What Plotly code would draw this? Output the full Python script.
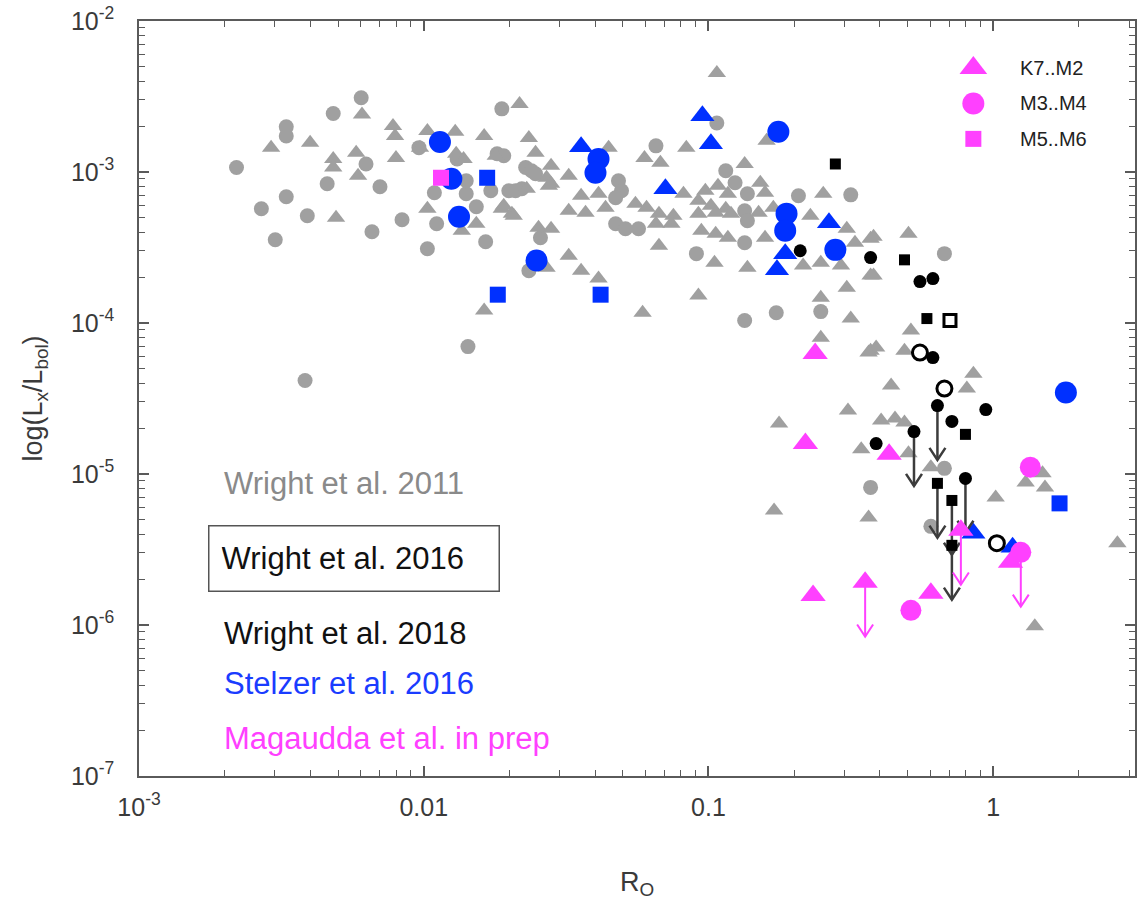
import plotly.graph_objects as go

# ---------------------------------------------------------------------------
# Wright et al. 2011 (grey): Rossby number R_O and L_X/L_bol
# ---------------------------------------------------------------------------
w11_tri_ro = [
    2.91e-3, 3.99e-3, 6.07e-3, 7.80e-3, 7.93e-3, 1.03e-2, 1.29e-2, 1.63e-2, 4.81e-3, 4.81e-3,
    5.79e-3, 7.99e-3, 9.70e-3, 5.88e-3, 4.92e-3, 1.03e-2, 1.36e-2, 1.53e-2, 1.79e-2, 1.88e-2,
    1.30e-2, 1.63e-2, 0.107, 2.17e-2, 0.160, 2.34e-2, 2.47e-2, 4.46e-2, 5.96e-2, 6.78e-2,
    8.36e-2, 2.80e-2, 3.23e-2, 2.75e-2, 3.57e-2, 4.11e-2, 8.17e-2, 0.134, 0.152, 9.75e-2,
    0.108, 0.117, 0.158, 0.253, 1.91e-2, 2.04e-2, 3.23e-2, 3.70e-2, 4.35e-2, 5.54e-2,
    6.06e-2, 6.70e-2, 7.53e-2, 6.54e-2, 7.41e-2, 9.22e-2, 0.102, 0.115, 9.22e-2, 0.106,
    0.120, 0.150, 0.169, 0.228, 2.53e-2, 2.80e-2, 9.44e-2, 0.106, 0.117, 0.158,
    0.306, 0.327, 0.371, 2.70e-2, 3.23e-2, 3.57e-2, 4.11e-2, 6.70e-2, 0.105, 0.137,
    0.215, 0.248, 0.292, 0.371, 9.22e-2, 5.87e-2, 0.248, 0.306, 0.316, 0.248,
    0.371, 0.504, 0.380, 0.380, 0.514, 0.388, 0.365, 0.488, 0.852, 0.808,
    0.438, 0.309, 0.177, 0.404, 0.452, 0.488, 0.344, 0.504, 0.604, 1.02,
    1.30, 1.49, 1.52, 0.170, 0.365, 2.73, 1.40, 2.70e-2, 2.80e-2, 2.30e-2,
    2.07e-2, 1.38e-2,
]
w11_tri_lx = [
    1.45e-3, 1.56e-3, 2.40e-3, 2.02e-3, 1.73e-3, 1.87e-3, 1.85e-3, 1.73e-3, 1.22e-3, 1.07e-3,
    1.34e-3, 1.24e-3, 1.45e-3, 9.44e-4, 4.98e-4, 5.71e-4, 4.09e-4, 4.54e-4, 1.28e-3, 5.71e-4,
    1.32e-3, 1.21e-4, 4.53e-3, 2.82e-3, 1.61e-3, 1.68e-3, 1.34e-3, 1.45e-3, 1.24e-3, 1.15e-3,
    1.45e-3, 1.10e-3, 9.44e-4, 8.11e-4, 6.96e-4, 7.18e-4, 7.18e-4, 1.13e-3, 8.49e-4, 7.52e-4,
    8.11e-4, 7.18e-4, 7.28e-4, 7.18e-4, 5.97e-4, 5.30e-4, 5.53e-4, 5.37e-4, 5.80e-4, 6.17e-4,
    5.80e-4, 5.30e-4, 5.13e-4, 4.54e-4, 4.54e-4, 6.45e-4, 5.97e-4, 5.71e-4, 5.30e-4, 5.37e-4,
    5.30e-4, 5.37e-4, 5.80e-4, 5.13e-4, 4.28e-4, 4.21e-4, 4.09e-4, 3.90e-4, 3.67e-4, 3.67e-4,
    4.21e-4, 3.40e-4, 3.61e-4, 2.32e-4, 2.79e-4, 2.22e-4, 1.97e-4, 3.25e-4, 2.51e-4, 2.32e-4,
    2.40e-4, 2.51e-4, 2.40e-4, 2.06e-4, 1.52e-4, 1.17e-4, 1.47e-4, 1.71e-4, 1.07e-4, 8.00e-5,
    6.56e-5, 3.90e-4, 3.72e-4, 2.06e-4, 8.91e-5, 6.87e-5, 6.37e-5, 6.56e-5, 4.62e-5, 3.68e-5,
    3.85e-5, 2.63e-5, 2.16e-5, 2.26e-5, 2.33e-5, 2.19e-5, 1.46e-5, 1.37e-5, 1.11e-5, 7.00e-6,
    8.80e-6, 1.01e-5, 8.15e-6, 5.74e-6, 5.16e-6, 3.48e-6, 9.82e-7, 9.16e-4, 8.36e-4, 7.74e-4,
    5.13e-4, 1.22e-3,
]
w11_cir_ro = [
    2.20e-3, 3.29e-3, 3.29e-3, 4.81e-3, 6.03e-3, 6.27e-3, 4.58e-3, 7.02e-3, 3.29e-3, 2.69e-3,
    3.90e-3, 3.01e-3, 6.58e-3, 8.39e-3, 1.03e-2, 1.11e-2, 1.09e-2, 1.41e-2, 1.41e-2, 1.53e-2,
    1.65e-2, 1.31e-2, 1.88e-2, 9.62e-3, 1.81e-2, 1.72e-2, 1.99e-2, 2.10e-2, 2.28e-2, 2.39e-2,
    2.47e-2, 1.91e-2, 2.21e-2, 4.83e-2, 4.95e-2, 4.72e-2, 4.72e-2, 5.11e-2, 5.68e-2, 2.57e-2,
    2.34e-2, 6.54e-2, 0.107, 0.115, 0.124, 0.137, 0.134, 0.137, 0.134, 9.07e-2,
    0.207, 0.316, 0.134, 0.173, 0.248, 0.674, 3.83e-3, 1.43e-2, 0.371, 0.604,
    0.674,
]
w11_cir_lx = [
    1.07e-3, 1.99e-3, 1.73e-3, 2.44e-3, 3.10e-3, 1.13e-3, 8.36e-4, 7.98e-4, 6.86e-4, 5.71e-4,
    5.13e-4, 3.56e-4, 4.02e-4, 4.83e-4, 3.10e-4, 4.54e-4, 7.28e-4, 7.18e-4, 8.75e-4, 5.89e-4,
    3.45e-4, 1.22e-3, 2.62e-3, 1.45e-3, 1.32e-3, 7.52e-4, 7.52e-4, 7.52e-4, 1.07e-3, 1.02e-3,
    9.73e-4, 1.28e-3, 7.74e-4, 8.75e-4, 7.52e-4, 6.75e-4, 4.54e-4, 4.21e-4, 4.21e-4, 3.67e-4,
    2.22e-4, 1.49e-3, 2.11e-3, 1.02e-3, 8.49e-4, 7.18e-4, 5.53e-4, 4.75e-4, 3.40e-4, 2.88e-4,
    6.96e-4, 7.06e-4, 1.04e-4, 1.17e-4, 1.19e-4, 2.88e-4, 4.16e-5, 6.98e-5, 8.15e-6, 4.50e-6,
    1.09e-5,
]

# ---------------------------------------------------------------------------
# Stelzer et al. 2016 (blue)
# ---------------------------------------------------------------------------
st_tri_ro = [3.57e-2, 9.52e-2, 0.102, 7.06e-2, 0.265, 0.186, 0.174, 0.852, 1.17]
st_tri_lx = [1.47e-3, 2.36e-3, 1.54e-3, 7.74e-4, 4.61e-4, 2.88e-4, 2.25e-4, 4.05e-6, 3.27e-6]
st_cir_ro = [1.14e-2, 1.25e-2, 1.33e-2, 2.49e-2, 4.11e-2, 4.01e-2, 0.176, 0.188, 0.186, 0.279, 1.80]
st_cir_lx = [1.58e-3, 9.02e-4, 5.06e-4, 2.59e-4, 1.22e-3, 9.88e-4, 1.85e-3, 5.30e-4, 4.09e-4, 3.05e-4, 3.47e-5]
st_sq_ro = [1.67e-2, 1.82e-2, 4.18e-2, 1.71]
st_sq_lx = [9.16e-4, 1.54e-4, 1.54e-4, 6.39e-6]

# ---------------------------------------------------------------------------
# Wright et al. 2018 (black); *_ul flags mark upper limits
# ---------------------------------------------------------------------------
w18_cir_ro = [0.210, 0.371, 0.553, 0.614, 0.614, 0.637, 0.716, 0.942, 0.527, 0.388, 0.799]
w18_cir_lx = [3.01e-4, 2.71e-4, 1.88e-4, 1.97e-4, 5.90e-5, 2.84e-5, 2.23e-5, 2.67e-5, 1.91e-5, 1.59e-5, 9.35e-6]
w18_cir_ul = [0, 0, 0, 0, 0, 1, 0, 0, 1, 0, 1]
w18_sq_ro = [0.279, 0.488, 0.585, 0.799, 0.637, 0.716, 0.716]
w18_sq_lx = [1.13e-3, 2.62e-4, 1.07e-4, 1.83e-5, 8.67e-6, 6.68e-6, 3.37e-6]
w18_sq_ul = [0, 0, 0, 0, 1, 1, 1]
w18_open_cir_ro = [0.553, 0.674, 1.03]
w18_open_cir_lx = [6.37e-5, 3.68e-5, 3.48e-6]
w18_open_sq_ro = [0.705]
w18_open_sq_lx = [1.04e-4]

# ---------------------------------------------------------------------------
# Magaudda et al. in prep (magenta)
# ---------------------------------------------------------------------------
mg_tri_ro = [0.237, 0.219, 0.431, 0.770, 1.15, 0.233, 0.355, 0.604]
mg_tri_lx = [6.28e-5, 1.59e-5, 1.35e-5, 4.24e-6, 2.60e-6, 1.57e-6, 1.92e-6, 1.62e-6]
mg_tri_ul = [0, 0, 0, 1, 0, 0, 1, 0]
mg_cir_ro = [1.35, 0.514, 1.25]
mg_cir_lx = [1.11e-5, 1.25e-6, 3.03e-6]
mg_cir_ul = [0, 0, 1]
mg_sq_ro = [1.15e-2]
mg_sq_lx = [9.16e-4]

# spectral-type key
key_names = ["K7..M2", "M3..M4", "M5..M6"]
key_symbols = ["triangle-up", "circle", "square"]

# axis ticks
x_tick_vals = [1e-3, 1e-2, 1e-1, 1]
x_tick_text = ["10<sup>-3</sup>", "0.01", "0.1", "1"]
y_tick_vals = [1e-7, 1e-6, 1e-5, 1e-4, 1e-3, 1e-2]
y_tick_text = ["10<sup>-7</sup>", "10<sup>-6</sup>", "10<sup>-5</sup>",
               "10<sup>-4</sup>", "10<sup>-3</sup>", "10<sup>-2</sup>"]

GREY = "#a0a0a0"
BLUE = "#0030ff"
MAGENTA = "#ff40ff"
ARROW = "#3c3c3c"
AXIS = "#5a5a5a"
FONT = "Liberation Sans, Arial, Helvetica, sans-serif"


def upper_limit_arrows(ro, lx, flags, drop=0.36, half=0.028, head=0.08):
    """Down-pointing arrows (stem + open V head) for upper limits, in log space."""
    xs, ys = [], []
    for r, l, f in zip(ro, lx, flags):
        if not f:
            continue
        tip = l / 10 ** drop
        xs += [r, r, None, r / 10 ** half, r, r * 10 ** half, None]
        ys += [l, tip, None, tip * 10 ** head, tip, tip * 10 ** head, None]
    return xs, ys


def pts(x, y, symbol, size, color, line=None):
    return go.Scatter(
        x=x, y=y, mode="markers", showlegend=False, hoverinfo="skip",
        marker=dict(symbol=symbol, size=size, color=color, opacity=1,
                    line=line or dict(width=0)),
    )


fig = go.Figure()

# grey sample
fig.add_trace(pts(w11_cir_ro, w11_cir_lx, "circle", 15, GREY))
fig.add_trace(pts(w11_tri_ro, w11_tri_lx, "triangle-up", 16, GREY))

# blue sample
fig.add_trace(pts(st_cir_ro, st_cir_lx, "circle", 22, BLUE))
fig.add_trace(pts(st_tri_ro, st_tri_lx, "triangle-up", 21, BLUE))
fig.add_trace(pts(st_sq_ro, st_sq_lx, "square", 16, BLUE))

# black upper-limit arrows
ax1, ay1 = upper_limit_arrows(w18_cir_ro, w18_cir_lx, w18_cir_ul)
ax2, ay2 = upper_limit_arrows(w18_sq_ro, w18_sq_lx, w18_sq_ul)
fig.add_trace(go.Scatter(x=ax1 + ax2, y=ay1 + ay2, mode="lines", showlegend=False,
                         hoverinfo="skip", line=dict(color=ARROW, width=2.5)))

# black sample
fig.add_trace(pts(w18_cir_ro, w18_cir_lx, "circle", 13, "black"))
fig.add_trace(pts(w18_sq_ro, w18_sq_lx, "square", 11, "black"))
fig.add_trace(pts(w18_open_cir_ro, w18_open_cir_lx, "circle", 15, "white",
                  dict(color="black", width=3)))
fig.add_trace(pts(w18_open_sq_ro, w18_open_sq_lx, "square", 12, "white",
                  dict(color="black", width=3)))

# magenta upper-limit arrows
mx1, my1 = upper_limit_arrows(mg_tri_ro, mg_tri_lx, mg_tri_ul)
mx2, my2 = upper_limit_arrows(mg_cir_ro, mg_cir_lx, mg_cir_ul)
fig.add_trace(go.Scatter(x=mx1 + mx2, y=my1 + my2, mode="lines", showlegend=False,
                         hoverinfo="skip", line=dict(color=MAGENTA, width=2)))

# magenta sample
fig.add_trace(pts(mg_tri_ro, mg_tri_lx, "triangle-up", 22, MAGENTA))
fig.add_trace(pts(mg_cir_ro, mg_cir_lx, "circle", 21, MAGENTA))
fig.add_trace(pts(mg_sq_ro, mg_sq_lx, "square", 16, MAGENTA))

# key: one row per spectral class on a small hidden overlay axis
KEY_X_DOMAIN = [0.8277, 0.8477]
KEY_Y_DOMAIN = [0.8204, 0.9613]
key_rows = list(range(len(key_names)))
fig.add_trace(go.Scatter(
    x=[0] * len(key_rows), y=key_rows, xaxis="x2", yaxis="y2", mode="markers",
    showlegend=False, hoverinfo="skip", cliponaxis=False,
    marker=dict(symbol=key_symbols, size=[24, 22, 16], color=MAGENTA, opacity=1,
                line=dict(width=0)),
))
row_h = (KEY_Y_DOMAIN[1] - KEY_Y_DOMAIN[0]) / len(key_rows)
for i, name in zip(key_rows, key_names):
    fig.add_annotation(text=name, xref="paper", yref="paper", x=0.8828,
                       y=KEY_Y_DOMAIN[1] - (i + 0.5) * row_h,
                       xanchor="left", yanchor="middle", showarrow=False,
                       font=dict(family=FONT, size=20, color="#222222"))

axis_common = dict(
    type="log", showgrid=False, zeroline=False, showline=True, linecolor=AXIS,
    linewidth=1.5, mirror="allticks", ticks="inside", ticklen=10, tickwidth=1.5,
    tickcolor=AXIS, tickfont=dict(family=FONT, size=25, color="#3a3a3a"),
    tickmode="array",
)

x_minor = [k * 10.0 ** e for e in range(-3, 0) for k in range(2, 10)] + [2, 3]
y_minor = [k * 10.0 ** e for e in range(-7, -2) for k in range(2, 10)]

xaxis_main = dict(
    **axis_common, range=[-3, 0.498], tickvals=x_tick_vals, ticktext=x_tick_text,
    ticklabelstandoff=8,
    minor=dict(tickmode="array", tickvals=x_minor, ticks="inside", ticklen=6,
               tickwidth=1.2, tickcolor=AXIS),
    title=dict(text="R<sub>O</sub>", font=dict(family=FONT, size=27, color="#3a3a3a"),
               standoff=52),
)
yaxis_main = dict(
    **axis_common, range=[-7, -2], tickvals=y_tick_vals, ticktext=y_tick_text,
    ticklabelstandoff=18,
    minor=dict(tickmode="array", tickvals=y_minor, ticks="inside", ticklen=6,
               tickwidth=1.2, tickcolor=AXIS),
    title=dict(text="log(L<sub>x</sub>/L<sub>bol</sub>)",
               font=dict(family=FONT, size=27, color="#3a3a3a"), standoff=20),
)

# sample labels
label_font = 31
labels = [
    ("Wright et al. 2011", "#8a8a8a", 0.3876),
    ("Wright et al. 2018", "#111111", 0.1892),
    ("Stelzer et al. 2016", "#1a3cff", 0.1230),
    ("Magaudda et al. in prep", MAGENTA, 0.0503),
]
for text, color, ypos in labels:
    fig.add_annotation(text=text, xref="paper", yref="paper", x=0.0832, y=ypos,
                       xanchor="left", yanchor="middle", showarrow=False,
                       font=dict(family=FONT, size=label_font, color=color))
fig.add_annotation(text="Wright et al. 2016", xref="paper", yref="paper", x=0.0691,
                   y=0.2884, xanchor="left", yanchor="middle", showarrow=False,
                   align="left", width=265, height=40, borderpad=12, borderwidth=1.5,
                   bordercolor="#555555",
                   font=dict(family=FONT, size=label_font, color="#111111"))

fig.update_layout(
    width=1140, height=914,
    margin=dict(l=139, r=3, t=20, b=138),
    plot_bgcolor="white", paper_bgcolor="white",
    font=dict(family=FONT),
    showlegend=False,
    xaxis=xaxis_main,
    yaxis=yaxis_main,
    xaxis2=dict(domain=KEY_X_DOMAIN, range=[-1, 1], anchor="y2", visible=False),
    yaxis2=dict(domain=KEY_Y_DOMAIN, range=[len(key_rows) - 0.5, -0.5], anchor="x2",
                visible=False),
)

fig.write_html("out.html")
